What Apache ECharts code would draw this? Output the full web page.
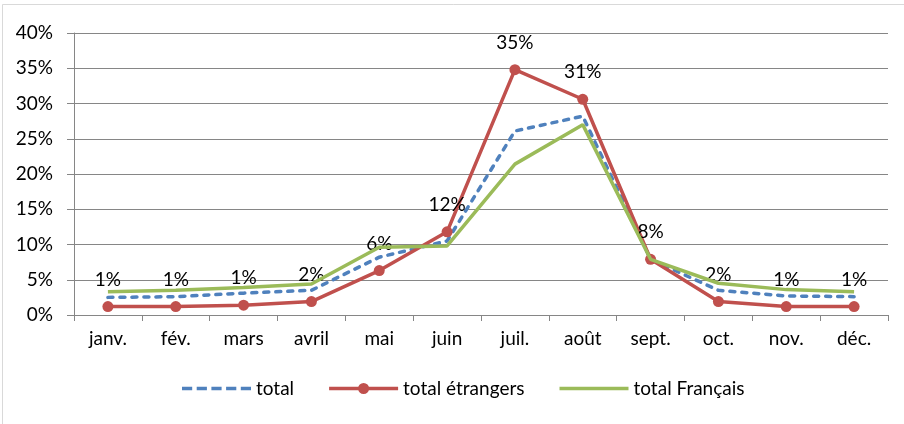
<!DOCTYPE html>
<html><head><meta charset="utf-8">
<script src="https://cdn.jsdelivr.net/npm/echarts@6/dist/echarts.min.js"></script>
<style>html,body{margin:0;padding:0;background:#fff}#c{width:904px;height:424px}</style>
</head><body><div id="c"></div>
<script>
var months = ['janv.','fév.','mars','avril','mai','juin','juil.','août','sept.','oct.','nov.','déc.'];
var total = [2.5,2.6,3.1,3.5,8.2,10.5,26.1,28.2,7.9,3.5,2.7,2.6];
var totalEtrangers = [1.2,1.2,1.4,1.9,6.3,11.8,34.8,30.6,7.9,1.9,1.2,1.2];
var totalFrancais = [3.3,3.5,3.9,4.4,9.6,9.8,21.4,27.0,7.9,4.5,3.6,3.3];
var yTicks = [0,5,10,15,20,25,30,35,40];

var font = 'Lato, sans-serif';
var fs = 19;
var iconDash = 'path://M0,0h10.2v3.5h-10.2z M14.7,0h10.2v3.5h-10.2z M29.4,0h10.2v3.5h-10.2z M44.1,0h10.2v3.5h-10.2z M58.8,0h10.2v3.5h-10.2z';
var iconMarker = 'path://M0,3.75h69v3.5h-69z M40,5.5a5.5,5.5 0 1 1 -11,0a5.5,5.5 0 1 1 11,0z';
var iconLine = 'path://M0,0h69v3.5h-69z';
var chart = echarts.init(document.getElementById('c'));
chart.setOption({
  animation:false,
  backgroundColor:'#fff',
  graphic:[{type:'rect',shape:{x:2.5,y:4.5,width:1000,height:1000},style:{fill:'none',stroke:'#d9d9d9',lineWidth:1},silent:true}],
  grid:{left:74,right:16,top:33,bottom:109,containLabel:false},
  legend:{
    top:374,left:177,itemWidth:69,itemHeight:12,itemGap:35,
    textStyle:{fontFamily:font,fontSize:fs,color:'#000'},
    data:[
      {name:'total',icon:iconDash},
      {name:'total étrangers',icon:iconMarker},
      {name:'total Français',icon:iconLine}
    ]
  },
  xAxis:{
    type:'category',data:months,boundaryGap:true,
    axisLine:{lineStyle:{color:'#868686',width:1}},
    axisTick:{show:true,length:6,lineStyle:{color:'#868686'}},
    axisLabel:{fontFamily:font,fontSize:fs,color:'#000',margin:14}
  },
  yAxis:{
    type:'value',min:0,max:40,interval:5,
    axisLine:{show:true,lineStyle:{color:'#868686'}},
    axisTick:{show:true,length:7,lineStyle:{color:'#868686'}},
    splitLine:{lineStyle:{color:'#868686',width:1}},
    axisLabel:{fontFamily:font,fontSize:fs,color:'#000',margin:21,formatter:function(v){return yTicks.indexOf(v)>=0? v+'%':'';}}
  },
  series:[
    {name:'total',type:'line',data:total,showSymbol:false,symbol:'none',
      lineStyle:{color:'#4f81bd',width:3.5,type:[5,7],cap:'round'},itemStyle:{color:'#4f81bd'},z:2},
    {name:'total étrangers',type:'line',data:totalEtrangers,symbol:'circle',symbolSize:11,
      lineStyle:{color:'#c0504d',width:3.5},itemStyle:{color:'#c0504d'},z:3,
      label:{show:true,position:'top',distance:12,fontFamily:font,fontSize:fs,color:'#000',
        formatter:function(p){return Math.round(p.value)+'%';}}},
    {name:'total Français',type:'line',data:totalFrancais,showSymbol:false,symbol:'none',
      lineStyle:{color:'#9bbb59',width:3.5},itemStyle:{color:'#9bbb59'},z:4}
  ]
});
</script></body></html>
